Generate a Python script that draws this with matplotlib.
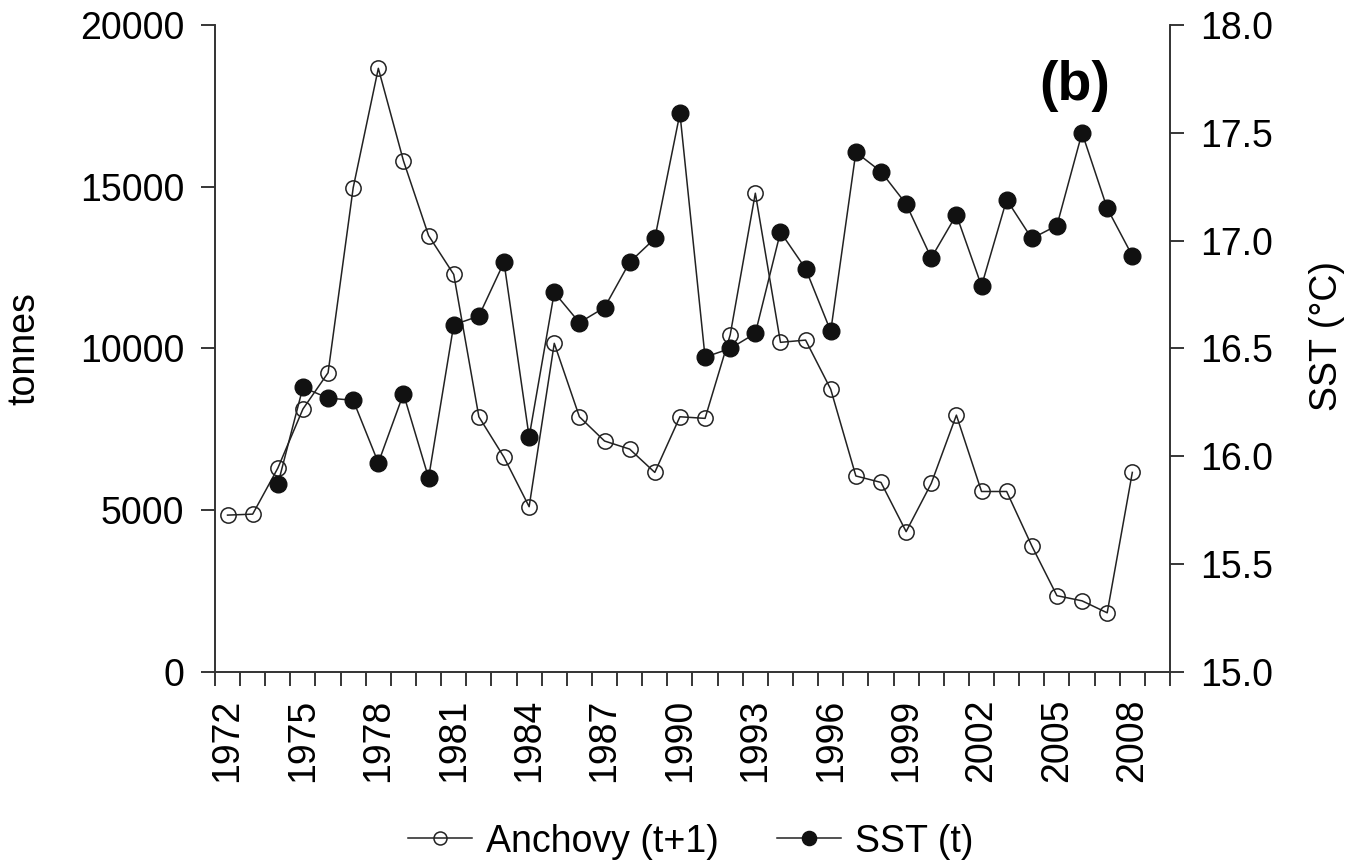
import numpy as np
import matplotlib
matplotlib.use("Agg")
from matplotlib import pyplot as plt
from matplotlib.ticker import FixedLocator

plt.rcParams['font.family'] = ['Liberation Sans', 'DejaVu Sans']

# anchovy catch, shifted one year (t+1), tonnes
anchovy_years = list(range(1972, 2009))
anchovy = [4850, 4880, 6300, 8130, 9250, 14970, 18660, 15800, 13490, 12290,
           7890, 6640, 5110, 10160, 7890, 7140, 6890, 6170, 7890, 7840,
           10420, 14800, 10190, 10260, 8740, 6060, 5860, 4340, 5830, 7940,
           5580, 5580, 3900, 2360, 2200, 1830, 6170]

# sea surface temperature (t), degrees C
sst_years = list(range(1974, 2009))
sst = [15.87, 16.32, 16.27, 16.26, 15.97, 16.29, 15.90, 16.61, 16.65, 16.90,
       16.09, 16.76, 16.62, 16.69, 16.90, 17.01, 17.59, 16.46, 16.50, 16.57,
       17.04, 16.87, 16.58, 17.41, 17.32, 17.17, 16.92, 17.12, 16.79, 17.19,
       17.01, 17.07, 17.50, 17.15, 16.93]

year_labels = list(range(1972, 2009, 3))
sst_ticks = [15.0, 15.5, 16.0, 16.5, 17.0, 17.5, 18.0]
fs = 27

fig = plt.figure(figsize=(13.52, 8.64), dpi=100)
ax = fig.add_axes([0.159, 0.2222, 0.7064, 0.7489])
ax2 = ax.twinx()

l1, = ax.plot(anchovy_years, anchovy, '-', color='#222222', lw=1.1,
              marker='o', ms=11, mfc='none', mec='#222222', mew=1.1,
              label='Anchovy (t+1)')
l2, = ax2.plot(sst_years, sst, '-', color='#222222', lw=1.1,
               marker='o', ms=12, mfc='#111111', mec='#111111',
               label='SST (t)')

ax.set_xlim(1971.5, 2009.5)
ax.set_ylim(0, 20000)
ax2.set_ylim(15.0, 18.0)

ax.set_xticks(year_labels)
ax.set_xticklabels([str(y) for y in year_labels], rotation=90)
ax.xaxis.set_minor_locator(FixedLocator(np.arange(1971.5, 2010.0, 1.0)))
ax.tick_params(axis='x', which='major', length=0, pad=19, labelsize=fs)
ax.tick_params(axis='x', which='minor', length=10, width=1.1, direction='out')

ax.set_yticks([0, 5000, 10000, 15000, 20000])
ax.tick_params(axis='y', length=10, width=1.1, pad=12, labelsize=fs)
ax2.set_yticks(sst_ticks)
ax2.set_yticklabels(['%.1f' % v for v in sst_ticks])
ax2.tick_params(axis='y', length=10, width=1.1, pad=12, labelsize=fs)

for a in (ax, ax2):
    a.spines['top'].set_visible(False)
    for s in a.spines.values():
        s.set_linewidth(1.2)
        s.set_color('#333333')

ax.set_ylabel('tonnes', fontsize=fs, labelpad=0)
ax.yaxis.set_label_coords(-0.181, 0.5)
ax2.set_ylabel('SST (°C)', fontsize=fs)
ax2.yaxis.set_label_coords(1.145, 0.52)

ax2.text(0.937, 0.905, '(b)', transform=ax.transAxes, fontsize=40,
         fontweight='bold', ha='right', va='center')

fig.legend(handles=[l1, l2], loc='center', bbox_to_anchor=(0.511, 0.026),
           ncol=2, frameon=False, fontsize=fs, markerscale=0.85,
           handlelength=1.7, handletextpad=0.37, columnspacing=1.57)

fig.savefig('out.png', dpi=100)
